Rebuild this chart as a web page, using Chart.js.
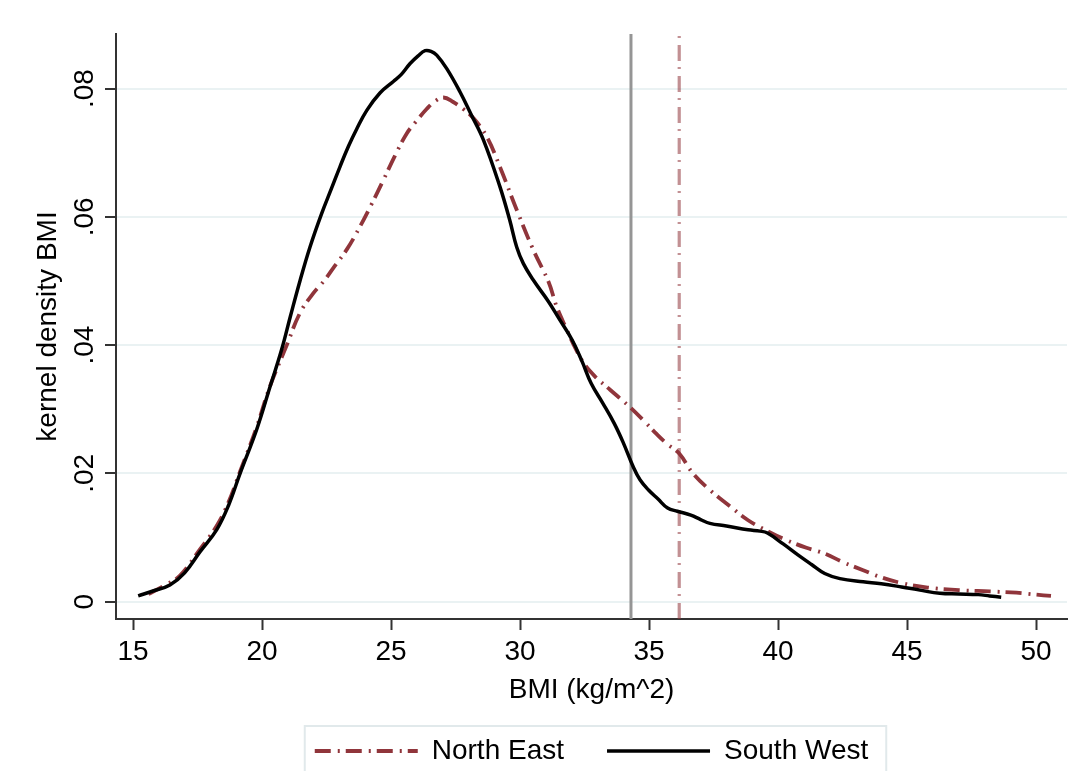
<!DOCTYPE html>
<html>
<head>
<meta charset="utf-8">
<script src="https://cdn.jsdelivr.net/npm/chart.js@4.4.1/dist/chart.umd.min.js"></script>
<style>
  html, body { margin: 0; padding: 0; background: #ffffff; }
  #wrap { width: 1088px; height: 771px; position: relative; }
</style>
</head>
<body>
<div id="wrap"><canvas id="c" width="1088" height="771"></canvas></div>
<script>
// ---- data ----
const swBMI = [15.2, 15.8, 16.43, 17.0, 17.6, 18.24, 18.7, 19.15, 19.79, 20.31, 20.76, 21.1, 21.47, 21.86, 22.31, 22.7, 23.02, 23.35, 23.67, 24.06, 24.57, 25.09, 25.4, 25.74, 26.05, 26.32, 26.55, 26.77, 27.16, 27.67, 28.1, 28.58, 29.22, 29.6, 29.87, 30.13, 30.52, 31.1, 31.5, 32.02, 32.4, 32.76, 33.2, 33.65, 34.0, 34.39, 34.65, 34.98, 35.35, 35.72, 36.1, 36.62, 37.0, 37.36, 38.0, 38.84, 39.3, 39.59, 40.2, 40.77, 41.3, 41.81, 42.4, 43.3, 44.0, 44.79, 45.5, 46.27, 47.0, 47.76, 48.2, 48.65];
const swDensity = [0.0009, 0.0017, 0.0026, 0.0045, 0.0078, 0.0112, 0.0150, 0.0200, 0.0268, 0.0335, 0.0393, 0.0445, 0.0500, 0.0553, 0.0605, 0.0645, 0.0678, 0.0710, 0.0737, 0.0766, 0.0793, 0.0811, 0.0822, 0.0839, 0.0851, 0.0859, 0.0858, 0.0852, 0.0831, 0.0795, 0.0760, 0.0720, 0.0647, 0.0595, 0.0553, 0.0527, 0.0501, 0.0468, 0.0442, 0.0408, 0.0375, 0.0340, 0.0310, 0.0278, 0.0248, 0.0210, 0.0190, 0.0174, 0.0160, 0.0146, 0.0141, 0.0135, 0.0128, 0.0122, 0.0118, 0.0112, 0.0110, 0.0107, 0.0090, 0.0073, 0.0058, 0.0044, 0.0036, 0.0031, 0.0028, 0.0023, 0.0018, 0.0013, 0.0012, 0.0011, 0.0009, 0.0007];

const neBMI = [15.6, 16.2, 16.8, 17.6, 18.24, 18.7, 19.15, 19.79, 20.31, 20.96, 21.47, 21.99, 22.4, 22.76, 23.3, 23.8, 24.25, 24.7, 25.15, 25.61, 26.0, 26.38, 26.7, 27.03, 27.41, 27.8, 28.19, 28.71, 29.22, 29.87, 30.52, 31.1, 31.42, 31.8, 32.16, 32.5, 32.91, 33.5, 34.24, 34.8, 35.28, 35.7, 36.17, 36.7, 37.36, 38.1, 38.84, 39.6, 40.33, 41.1, 41.81, 42.5, 43.3, 44.0, 44.79, 45.8, 47.01, 48.2, 49.24, 50.0, 50.58];
const neDensity = [0.0012, 0.0025, 0.0040, 0.0082, 0.0118, 0.0155, 0.0203, 0.0272, 0.0336, 0.0400, 0.0450, 0.0481, 0.0500, 0.0520, 0.0550, 0.0585, 0.0620, 0.0657, 0.0695, 0.0730, 0.0750, 0.0768, 0.0780, 0.0786, 0.0779, 0.0768, 0.0754, 0.0725, 0.0678, 0.0611, 0.0548, 0.0499, 0.0460, 0.0425, 0.0394, 0.0370, 0.0351, 0.0330, 0.0304, 0.0282, 0.0262, 0.0246, 0.0231, 0.0200, 0.0174, 0.0150, 0.0127, 0.0110, 0.0096, 0.0084, 0.0075, 0.0062, 0.0049, 0.0038, 0.0029, 0.0022, 0.0018, 0.0016, 0.0014, 0.0011, 0.0009];

const swMarkerBMI = 34.3;   // vertical reference line, South West
const neMarkerBMI = 36.17;  // vertical reference line, North East

const seriesNames = ['North East', 'South West'];
const xTicks = [15, 20, 25, 30, 35, 40, 45, 50];
const yTicks = [0, 0.02, 0.04, 0.06, 0.08];
const yTickLabels = ['0', '.02', '.04', '.06', '.08'];
const xTitle = 'BMI (kg/m^2)';
const yTitle = 'kernel density BMI';

const xMin = 14.34, xMax = 51.2;
const yMin = -0.0027, yMax = 0.0885;

// ---- build chart ----
const toPts = (xs, ys) => xs.map((x, i) => ({ x: x, y: ys[i] }));
const FONT = "'Liberation Sans', Arial, sans-serif";
const RED = '#90353b';
const DASHDOT = [16, 7, 2, 6];

const legendFrame = {
  id: 'legendFrame',
  afterDraw(chart) {
    const lg = chart.legend;
    if (!lg || !lg.legendHitBoxes || !lg.legendHitBoxes.length) return;
    const hb = lg.legendHitBoxes;
    const first = hb[0], last = hb[hb.length - 1];
    const ctx = chart.ctx;
    ctx.save();
    ctx.strokeStyle = '#e1e9eb';
    ctx.lineWidth = 2;
    const x0 = first.left - 10;
    const x1 = last.left + last.width + 18;
    const y0 = first.top - 11;
    ctx.strokeRect(x0, y0, x1 - x0, 60);
    ctx.restore();
  }
};

new Chart(document.getElementById('c'), {
  type: 'line',
  data: {
    datasets: [
      {
        label: seriesNames[1],
        data: toPts(swBMI, swDensity),
        borderColor: '#000000',
        backgroundColor: '#000000',
        borderWidth: 3.5,
        pointRadius: 0,
        tension: 0.4,
        fill: false
      },
      {
        label: seriesNames[0],
        data: toPts(neBMI, neDensity),
        borderColor: RED,
        backgroundColor: RED,
        borderWidth: 3.8,
        borderDash: DASHDOT,
        pointRadius: 0,
        tension: 0.4,
        fill: false
      },
      {
        label: 'sw-ref',
        data: [{ x: swMarkerBMI, y: yMin }, { x: swMarkerBMI, y: yMax }],
        borderColor: '#959595',
        borderWidth: 3,
        pointRadius: 0,
        fill: false
      },
      {
        label: 'ne-ref',
        data: [{ x: neMarkerBMI, y: yMin }, { x: neMarkerBMI, y: yMax }],
        borderColor: 'rgba(144,53,59,0.55)',
        borderWidth: 3.2,
        borderDash: DASHDOT,
        pointRadius: 0,
        fill: false
      }
    ]
  },
  options: {
    responsive: false,
    animation: false,
    devicePixelRatio: 1,
    layout: { padding: { top: 34, left: 0, right: 21, bottom: 0 } },
    plugins: {
      tooltip: { enabled: false },
      legend: {
        position: 'bottom',
        fullSize: false,
        maxHeight: 77,
        labels: {
          usePointStyle: true,
          pointStyle: 'line',
          pointStyleWidth: 103,
          padding: 43,
          color: '#000000',
          font: { family: FONT, size: 28 },
          generateLabels: (chart) => [1, 0].map((i) => {
            const ds = chart.data.datasets[i];
            return {
              text: ds.label,
              datasetIndex: i,
              fillStyle: ds.borderColor,
              strokeStyle: ds.borderColor,
              lineWidth: ds.borderWidth,
              lineDash: ds.borderDash || [],
              lineCap: 'butt',
              pointStyle: 'line',
              fontColor: '#000000',
              hidden: false
            };
          })
        }
      }
    },
    scales: {
      x: {
        type: 'linear',
        min: xMin,
        max: xMax,
        afterBuildTicks: (s) => { s.ticks = xTicks.map(v => ({ value: v })); },
        afterFit: (s) => { s.height = 75; },
        ticks: {
          autoSkip: false,
          maxRotation: 0,
          padding: 5,
          color: '#000000',
          font: { family: FONT, size: 28 },
          callback: (v) => String(v)
        },
        grid: {
          drawOnChartArea: false,
          drawTicks: true,
          tickLength: 11,
          tickWidth: 2,
          color: '#333333'
        },
        border: { display: true, color: '#333333', width: 2 },
        title: {
          display: true,
          text: xTitle,
          color: '#000000',
          font: { family: FONT, size: 28 },
          padding: { top: 0, bottom: -13 }
        }
      },
      y: {
        type: 'linear',
        min: yMin,
        max: yMax,
        afterBuildTicks: (s) => { s.ticks = yTicks.map(v => ({ value: v })); },
        afterFit: (s) => { s.width = 116; },
        ticks: {
          minRotation: 90,
          maxRotation: 90,
          crossAlign: 'center',
          padding: 0,
          color: '#000000',
          font: { family: FONT, size: 28 },
          callback: (v, i) => yTickLabels[i]
        },
        grid: {
          drawOnChartArea: true,
          drawTicks: true,
          tickLength: 11,
          tickWidth: 2,
          lineWidth: 2,
          color: '#eaf2f3',
          tickColor: '#333333'
        },
        border: { display: true, color: '#333333', width: 2 },
        title: {
          display: true,
          text: yTitle,
          color: '#000000',
          font: { family: FONT, size: 28 },
          padding: { top: 31.8, bottom: 0 }
        }
      }
    }
  },
  plugins: [legendFrame]
});
</script>
</body>
</html>
